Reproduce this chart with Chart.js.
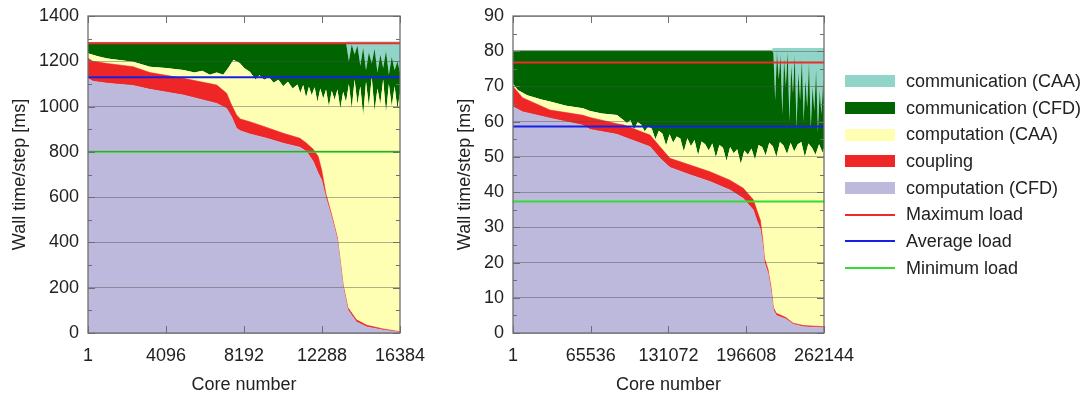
<!DOCTYPE html>
<html>
<head>
<meta charset="utf-8">
<script src="https://cdn.jsdelivr.net/npm/chart.js@4.4.0/dist/chart.umd.min.js"></script>
<style>
body{margin:0;background:#fff;width:1090px;height:396px;overflow:hidden;position:relative;font-family:"Liberation Sans",Arial,sans-serif;}
#left{position:absolute;left:0;top:0;}
#right{position:absolute;left:440px;top:0;}
#legend{position:absolute;left:845px;top:68px;font-size:18px;color:#222;}
.row{height:26.7px;display:flex;align-items:center;white-space:nowrap;}
.sw{width:50px;margin-right:11px;flex:none;}
</style>
</head>
<body>
<canvas id="left" width="450" height="396" style="width:450px;height:396px"></canvas>
<canvas id="right" width="440" height="396" style="width:440px;height:396px"></canvas>
<div id="legend"></div>
<script>
// ---- left panel (16384 cores), values are the upper edge of each layer in ms
let leftTicksX=[1,4096,8192,12288,16384];
let leftX=[1,256,1024,2370,3256,5005,6760,7280,7540,7800,8000,8500,9380,10255,11130,11480,11830,12090,12270,12500,12700,12880,13100,13400,13650,14100,14650,15500,16384];
let leftCfd=[1125,1112,1103,1093,1076,1051,1014,992,955,904,893,879,860,838,820,801,757,705,676,595,540,485,411,203,102,49,27,13,3];
let leftCoupling=[1213,1200,1190,1176,1150,1125,1095,1059,1007,963,945,933,908,882,860,838,811,779,720,612,552,495,420,212,112,58,34,18,6];
let leftCaaX=[1,512,1024,2370,3256,4096,5005,5600,6000,6400,6760,7100,7400,7630,7800,7980,8200,8500,8800,
  9000,9250,9500,9750,10000,10250,10500,10750,11000,11150,11300,11450,11600,11750,11900,12050,12200,12350,12500,
  12650,12800,12950,13100,13250,13400,13550,13700,13850,14000,14150,14300,14450,14600,14750,14900,15050,15200,
  15350,15500,15650,15800,15950,16100,16250,16384];
let leftCaa=[1235,1222,1212,1198,1176,1170,1162,1150,1158,1140,1150,1140,1175,1206,1200,1191,1170,1154,1120,
  1138,1118,1130,1105,1118,1090,1110,1080,1098,1060,1095,1040,1088,1050,1085,1020,1080,1035,1075,
  1000,1070,1030,1075,990,1065,1020,1100,990,1120,1010,1090,960,1110,1000,1130,980,1080,
  1010,1120,970,1100,1000,1090,990,1060];
let leftCommCfdX=[1,13400,13550,13700,13850,14000,14150,14300,14450,14600,14750,14900,15050,15200,15350,15500,15650,15800,15950,16100,16250,16384];
let leftCommCfd=[1283,1283,1283,1200,1275,1230,1270,1180,1260,1160,1240,1190,1255,1150,1230,1170,1245,1140,1220,1160,1200,1150];
let leftCommCaaX=[1,13400,13600,16384];
let leftCommCaa=[1283,1283,1287,1287];
let leftLoads=[1280,1130,800]; // max, average, min

// ---- right panel (262144 cores)
let rightTicksX=[1,65536,131072,196608,262144];
let rightX=[1,8000,31200,59000,64900,87600,93000,115500,123900,132300,149200,166000,182900,194100,202600,205400,208500,210500,212000,215000,217500,219500,222000,230000,236000,245000,262144];
let rightCfd=[64.2,62.8,61.0,59.0,57.8,56.4,55.7,52.9,49.6,47.0,44.9,43.0,40.6,38.2,34.9,32.1,29.5,25.0,20.0,17.0,12.0,6.5,5.0,4.0,2.5,1.8,1.5];
let rightCoupling=[70.0,66.8,63.3,61.8,61.2,59.4,59.1,56.2,52.9,49.6,47.7,45.8,43.4,41.1,37.8,35.0,32.0,26.5,21.2,18.0,13.0,7.2,5.6,4.4,2.8,2.1,1.8];
let rightCaaX=[1,4000,12000,24000,31200,45000,59000,65000,75000,87600,
  93000,96000,99000,102000,105000,108000,111000,114000,117000,120000,123000,126000,129000,132000,135000,138000,
  141000,144000,147000,150000,153000,156000,159000,162000,165000,168000,171000,174000,177000,180000,183000,186000,
  189000,192000,195000,198000,201000,204000,207000,210000,213000,216000,219000,222000,225000,228000,231000,234000,
  237000,240000,243000,246000,249000,252000,255000,258000,261000,262144];
let rightCaa=[70.8,69.0,67.5,66.3,65.7,64.5,63.8,63.0,62.3,61.9,
  60.5,59.6,60.4,57.8,59.8,59.2,57.2,58.6,58.0,55.0,57.4,56.6,53.2,56.4,54.0,55.8,
  55.2,51.5,55.3,53.0,54.8,50.5,54.4,53.6,51.8,53.8,49.8,53.4,52.6,48.8,52.8,51.0,
  52.2,48.0,51.8,50.6,52.4,49.2,53.4,52.8,50.4,54.0,53.0,50.0,54.2,53.2,50.8,54.0,
  51.5,53.6,54.2,50.0,53.8,52.6,50.6,53.6,51.2,52.5];
let rightCommCfdX=[1,218000,219500,221000,222500,224000,225500,227000,228500,230000,231500,233000,234500,236000,237500,
  239000,240500,242000,243500,245000,246500,248000,249500,251000,252500,254000,255500,257000,258500,260000,261500,262144];
let rightCommCfd=[80.2,80.2,79.5,66,80,72,79,62,78,70,80,60,76,68,79,
  58,74,66,78,60,72,64,77,58,70,63,75,57,69,62,72,66];
let rightCommCaaX=[1,218000,219000,262144];
let rightCommCaa=[80.2,80.2,80.9,80.9];
let rightLoads=[76.8,58.6,37.3];

let names=["computation (CFD)","coupling","computation (CAA)","communication (CFD)","communication (CAA)"];
let colors=["#bcb9dc","#ee2626","#ffffb4","#006400","#90d5c8"];
let loadNames=["Maximum load","Average load","Minimum load"];
let loadColors=["#ee2a2a","#1522e6","#33dd33"];

Chart.defaults.font.family='"Liberation Sans", Arial, sans-serif';
Chart.defaults.font.size=18;
Chart.defaults.color='#222';

function pts(xs,ys){return xs.map((x,i)=>({x:x,y:ys[i]}));}

// frame round the plot with inward tick marks, gnuplot style
const frame={
  id:'frame',
  afterDraw(chart,args,opts){
    const {ctx,chartArea:a,scales:{x,y}}=chart;
    ctx.save();
    ctx.strokeStyle='#6e6e6e'; ctx.lineWidth=1;
    ctx.beginPath();
    x.ticks.forEach(t=>{
      let px=Math.round(x.getPixelForValue(t.value))+.5;
      ctx.moveTo(px,a.bottom); ctx.lineTo(px,a.bottom-7);
      ctx.moveTo(px,a.top); ctx.lineTo(px,a.top+7);
    });
    for(let v=y.min;v<=y.max;v+=opts.minor){
      let py=Math.round(y.getPixelForValue(v))+.5;
      let len=(v%opts.major===0)?7:4;
      ctx.moveTo(a.left,py); ctx.lineTo(a.left+len,py);
      ctx.moveTo(a.right,py); ctx.lineTo(a.right-len,py);
    }
    ctx.stroke();
    ctx.lineWidth=1.3;
    ctx.strokeRect(a.left,a.top,a.right-a.left,a.bottom-a.top);
    ctx.restore();
  }
};

function makeChart(id,d){
  let layers=[[d.x,d.cfd],[d.x,d.coupling],[d.caaX,d.caa],[d.commCfdX,d.commCfd],[d.commCaaX,d.commCaa]];
  let datasets=layers.map((l,i)=>({
    label:names[i],data:pts(l[0],l[1]),
    backgroundColor:colors[i],borderColor:colors[i],borderWidth:i>=2?0:0.6,
    pointRadius:0,fill:i===0?'origin':i-1,order:0,tension:0
  }));
  d.loads.forEach((v,i)=>datasets.push({
    label:loadNames[i],data:pts([d.ticks[0],d.ticks[d.ticks.length-1]],[v,v]),
    borderColor:loadColors[i],borderWidth:2,pointRadius:0,fill:false,order:-1
  }));
  return new Chart(document.getElementById(id),{
    type:'line',
    data:{datasets:datasets},
    options:{
      responsive:false,animation:false,
      layout:{padding:{left:d.padLeft,right:d.padRight,top:16,bottom:0}},
      plugins:{legend:{display:false},tooltip:{enabled:false},frame:{minor:d.minor,major:d.major}},
      scales:{
        x:{type:'linear',min:d.ticks[0],max:d.ticks[d.ticks.length-1],
          afterBuildTicks:s=>{s.ticks=d.ticks.map(v=>({value:v}));},
          afterFit:s=>{s.height=63;},
          grid:{display:false},border:{display:false},
          ticks:{autoSkip:false,maxRotation:0,padding:4,callback:v=>String(v)},
          title:{display:true,text:'Core number',padding:0}},
        y:{min:0,max:d.ymax,
          afterFit:s=>{s.width=d.yWidth;s.paddingTop=0;s.paddingBottom=0;},
          grid:{color:'rgba(80,80,80,0.45)',drawTicks:false,z:1},border:{display:false},
          ticks:{stepSize:d.major,padding:9,callback:v=>String(v)},
          title:{display:true,text:'Wall time/step [ms]',padding:0}}
      }
    },
    plugins:[frame]
  });
}

makeChart('left',{x:leftX,cfd:leftCfd,coupling:leftCoupling,caaX:leftCaaX,caa:leftCaa,
  commCfdX:leftCommCfdX,commCfd:leftCommCfd,commCaaX:leftCommCaaX,commCaa:leftCommCaa,
  loads:leftLoads,ticks:leftTicksX,ymax:1400,major:200,minor:100,padLeft:9,padRight:50,yWidth:79});
makeChart('right',{x:rightX,cfd:rightCfd,coupling:rightCoupling,caaX:rightCaaX,caa:rightCaa,
  commCfdX:rightCommCfdX,commCfd:rightCommCfd,commCaaX:rightCommCaaX,commCaa:rightCommCaa,
  loads:rightLoads,ticks:rightTicksX,ymax:90,major:10,minor:5,padLeft:14,padRight:56,yWidth:59});

// legend: areas top-down as stacked, then the load lines
let lg=document.getElementById('legend');
for(let i=names.length-1;i>=0;i--){
  lg.insertAdjacentHTML('beforeend',`<div class="row"><div class="sw" style="height:12px;background:${colors[i]}"></div>${names[i]}</div>`);
}
loadNames.forEach((n,i)=>{
  lg.insertAdjacentHTML('beforeend',`<div class="row"><div class="sw" style="height:2px;background:${loadColors[i]}"></div>${n}</div>`);
});
</script>
</body>
</html>
